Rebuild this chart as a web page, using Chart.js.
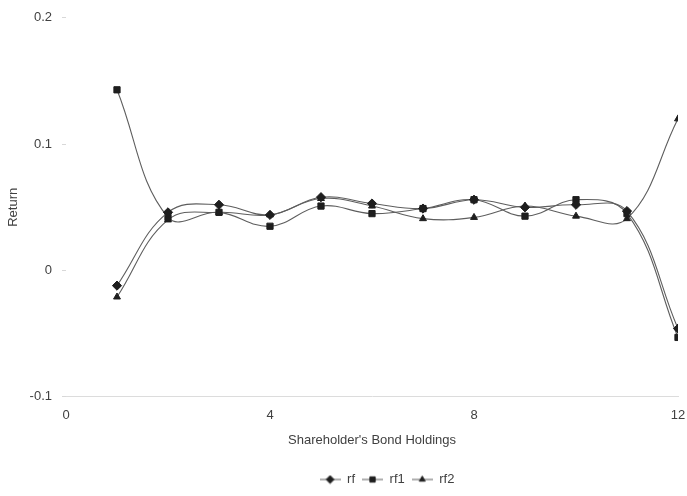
<!DOCTYPE html>
<html>
<head>
<meta charset="utf-8">
<script src="https://cdn.jsdelivr.net/npm/chart.js@4/dist/chart.umd.min.js"></script>
<style>
  html, body { margin: 0; padding: 0; background: #fff; }
  #wrap { width: 687px; height: 496px; }
</style>
</head>
<body>
<div id="wrap"><canvas id="c" width="687" height="496"></canvas></div>
<script>
// Bond holdings (x) and the return of each series
const holdings = [1, 2, 3, 4, 5, 6, 7, 8, 9, 10, 11, 12];
const rf  = [-0.012, 0.046, 0.052, 0.044, 0.058, 0.053, 0.049, 0.056, 0.050, 0.052, 0.047, -0.046];
const rf1 = [0.143, 0.042, 0.046, 0.035, 0.051, 0.045, 0.049, 0.056, 0.043, 0.056, 0.045, -0.053];
const rf2 = [-0.021, 0.040, 0.046, 0.044, 0.057, 0.051, 0.041, 0.042, 0.051, 0.043, 0.041, 0.120];
const seriesNames = ['rf', 'rf1', 'rf2'];
const markerStyles = ['rectRot', 'rect', 'triangle'];
const markerSizes = [4.6, 4.4, 4.0];
const yTicks = [-0.1, 0, 0.1, 0.2];
const xTicks = [0, 4, 8, 12];

const LINE = '#5e5e5e';
const MARK = '#1e1e1e';
const TEXT = '#404040';
const FONT = "'Liberation Sans', Arial, sans-serif";

function toPoints(vals) {
  return holdings.map((h, i) => ({ x: h, y: vals[i] }));
}

// Small legend swatch: a line segment with the series marker in the middle
function legendSwatch(style, size) {
  const cv = document.createElement('canvas');
  cv.width = 21; cv.height = 10;
  const ctx = cv.getContext('2d');
  ctx.strokeStyle = LINE;
  ctx.lineWidth = 1;
  ctx.beginPath(); ctx.moveTo(0, 5); ctx.lineTo(21, 5); ctx.stroke();
  ctx.fillStyle = MARK;
  ctx.strokeStyle = MARK;
  Chart.helpers.drawPoint(ctx, { pointStyle: style, radius: size * 0.85, borderWidth: 1 }, 10.5, 5);
  return cv;
}

// Nudges the bottom legend sideways after layout
const legendShift = {
  id: 'legendShift',
  afterLayout(chart, args, opts) {
    const lg = chart.legend;
    if (lg) { lg.left += opts.dx; lg.right += opts.dx; }
  }
};

const allSeries = [rf, rf1, rf2];
const datasets = allSeries.map((vals, i) => ({
  label: seriesNames[i],
  data: toPoints(vals),
  borderColor: LINE,
  borderWidth: 1.1,
  tension: 0.4,
  pointStyle: markerStyles[i],
  pointRadius: markerSizes[i],
  pointBackgroundColor: MARK,
  pointBorderColor: MARK,
  pointBorderWidth: 1,
  fill: false
}));

new Chart(document.getElementById('c'), {
  type: 'line',
  data: { datasets },
  plugins: [legendShift],
  options: {
    responsive: false,
    animation: false,
    layout: { padding: { top: 6, right: 9, bottom: 0, left: 6 } },
    plugins: {
      tooltip: { enabled: false },
      legendShift: { dx: 15 },
      legend: {
        position: 'bottom',
        fullSize: false,
        labels: {
          usePointStyle: true,
          pointStyleWidth: 21,
          padding: 7,
          color: TEXT,
          font: { family: FONT, size: 13 },
          generateLabels(chart) {
            return chart.data.datasets.map((ds, i) => ({
              text: ds.label,
              datasetIndex: i,
              fontColor: TEXT,
              lineWidth: 0,
              strokeStyle: 'rgba(0,0,0,0)',
              fillStyle: 'rgba(0,0,0,0)',
              pointStyle: legendSwatch(markerStyles[i], markerSizes[i]),
              hidden: false
            }));
          }
        }
      }
    },
    scales: {
      x: {
        type: 'linear',
        min: 0, max: 12,
        afterBuildTicks(axis) { axis.ticks = xTicks.map(v => ({ value: v })); },
        afterFit(axis) { axis.paddingRight = 0; },
        grid: { display: false, drawTicks: false },
        border: { display: true, color: '#dcdcdc', width: 1 },
        ticks: { color: TEXT, font: { family: FONT, size: 13 }, padding: 11 },
        title: {
          display: true,
          text: "Shareholder's Bond Holdings",
          color: TEXT,
          font: { family: FONT, size: 13 },
          padding: { top: -2, bottom: 18 }
        }
      },
      y: {
        type: 'linear',
        min: -0.1, max: 0.2,
        afterBuildTicks(axis) { axis.ticks = yTicks.map(v => ({ value: v })); },
        grid: { display: true, drawOnChartArea: false, drawTicks: true, tickLength: 4, color: '#d8d8d8' },
        border: { display: false },
        ticks: {
          color: TEXT,
          font: { family: FONT, size: 13 },
          padding: 10,
          callback: v => String(Math.round(v * 10) / 10)
        },
        title: {
          display: true,
          text: 'Return',
          color: TEXT,
          font: { family: FONT, size: 13 },
          padding: { top: 0, bottom: -2 }
        }
      }
    }
  }
});
</script>
</body>
</html>
